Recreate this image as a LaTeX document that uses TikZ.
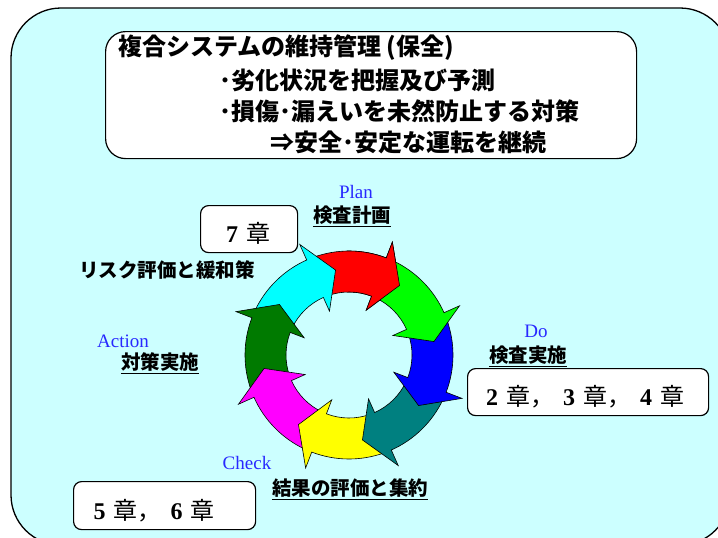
\documentclass[tikz,border=0pt]{standalone}
\usepackage{fontspec}
\setmainfont{Liberation Serif}
\newfontfamily\cjk{Noto Sans CJK JP}
\definecolor{bgcyan}{RGB}{204,255,255}
\definecolor{pblue}{RGB}{40,40,255}
\definecolor{cred}{RGB}{255,0,0}
\definecolor{cgreen}{RGB}{0,255,0}
\definecolor{cblue}{RGB}{0,0,255}
\definecolor{cteal}{RGB}{0,128,128}
\definecolor{cyel}{RGB}{255,255,0}
\definecolor{cmag}{RGB}{255,0,255}
\definecolor{cdgreen}{RGB}{0,122,0}
\definecolor{ccyan}{RGB}{0,255,255}
\newcommand{\cyarrow}[2]{%
  \path[arrowseg, fill=#2] ({#1+56}:104pt) arc[start angle={#1+56}, end angle={#1+15}, radius=104pt]
    -- ({#1+15}:121pt) -- (#1:86pt) -- ({#1+15}:48pt) -- ({#1+15}:63pt)
    arc[start angle={#1+15}, end angle={#1+56}, radius=63pt] -- cycle;}
\begin{document}
\begin{tikzpicture}[x=1pt,y=1pt,
  bgbox/.style={draw=black, line width=1.3pt, fill=bgcyan, rounded corners=50pt},
  whitebox/.style={draw=black, line width=1.2pt, fill=white, anchor=north west, inner sep=0pt},
  arrowseg/.style={draw=black, line width=0.6pt, line join=miter},
  eng/.style={text=pblue, font=\fontsize{19}{22}\selectfont, inner sep=0pt},
  jlab/.style={font=\cjk\bfseries\fontsize{19.5}{22}\selectfont, inner sep=0pt},
  titlel/.style={anchor=west, inner sep=0pt, font=\cjk\bfseries\fontsize{24}{28}\selectfont},
  chap/.style={font=\fontsize{24}{28}\selectfont, inner sep=0pt},
  uline/.style={line width=1.2pt}]
\useasboundingbox (0,0) rectangle (718,-538);
\fill[white] (0,0) rectangle (718,-538);
\path[bgbox] (11,-8) rectangle (730,-545);

% title box
\node[whitebox, rounded corners=20pt, minimum width=531pt, minimum height=127pt] (title) at (105,-31) {};
\node[titlel] (t1) at (118,-48) {複合システムの維持管理 (保全)};
\node[titlel] (t2) at (219,-80) {･劣化状況を把握及び予測};
\node[titlel] (t3) at (219,-111) {･損傷･漏えいを未然防止する対策};
\node[titlel] (t4) at (270,-142) {⇒安全･安定な運転を継続};

% cycle
\begin{scope}[shift={(349,-355)}]
  \cyarrow{54}{cred}
  \cyarrow{99}{ccyan}
  \cyarrow{144}{cdgreen}
  \cyarrow{189}{cmag}
  \cyarrow{234}{cyel}
  \cyarrow{279}{cteal}
  \cyarrow{324}{cblue}
  \cyarrow{369}{cgreen}
  \begin{scope}
    \clip (0,0) -- (30:140pt) arc[start angle=30, end angle=92, radius=140pt] -- cycle;
    \cyarrow{54}{cred}
  \end{scope}
\end{scope}

% Plan
\node[eng] (plan) at (356,-192) {Plan};
\node[jlab] (planj) at (352,-215) {検査計画};
\draw[uline] ([yshift=-2pt]planj.south west) -- ([yshift=-2pt]planj.south east);
\node[whitebox, rounded corners=8pt, minimum width=97pt, minimum height=47pt] (c7) at (200,-205) {};
\node[chap] (c7t) at (248,-233) {\textbf{7}\hspace{8pt}{\cjk 章}};
\node[jlab] (risk) at (167,-270) {リスク評価と緩和策};

% Action
\node[eng] (act) at (123,-341) {Action};
\node[jlab] (actj) at (160,-362) {対策実施};
\draw[uline] ([yshift=-2pt]actj.south west) -- ([yshift=-2pt]actj.south east);

% Do
\node[eng] (do) at (536,-331) {Do};
\node[jlab] (doj) at (528,-355) {検査実施};
\draw[uline] ([yshift=-2pt]doj.south west) -- ([yshift=-2pt]doj.south east);
\node[whitebox, rounded corners=8pt, minimum width=241pt, minimum height=47pt] (c234) at (467,-368) {};
\node[chap] (c234t) at (585,-397) {\textbf{2}\hspace{8pt}{\cjk 章，}\hspace{9pt}\textbf{3}\hspace{8pt}{\cjk 章，}\hspace{9pt}\textbf{4}\hspace{8pt}{\cjk 章}};

% Check
\node[eng] (chk) at (247,-463) {Check};
\node[jlab] (chkj) at (350,-488) {結果の評価と集約};
\draw[uline] ([yshift=-2pt]chkj.south west) -- ([yshift=-2pt]chkj.south east);
\node[whitebox, rounded corners=8pt, minimum width=182pt, minimum height=48pt] (c56) at (73,-481) {};
\node[chap] (c56t) at (154,-511) {\textbf{5}\hspace{8pt}{\cjk 章，}\hspace{9pt}\textbf{6}\hspace{8pt}{\cjk 章}};
\end{tikzpicture}
\end{document}
